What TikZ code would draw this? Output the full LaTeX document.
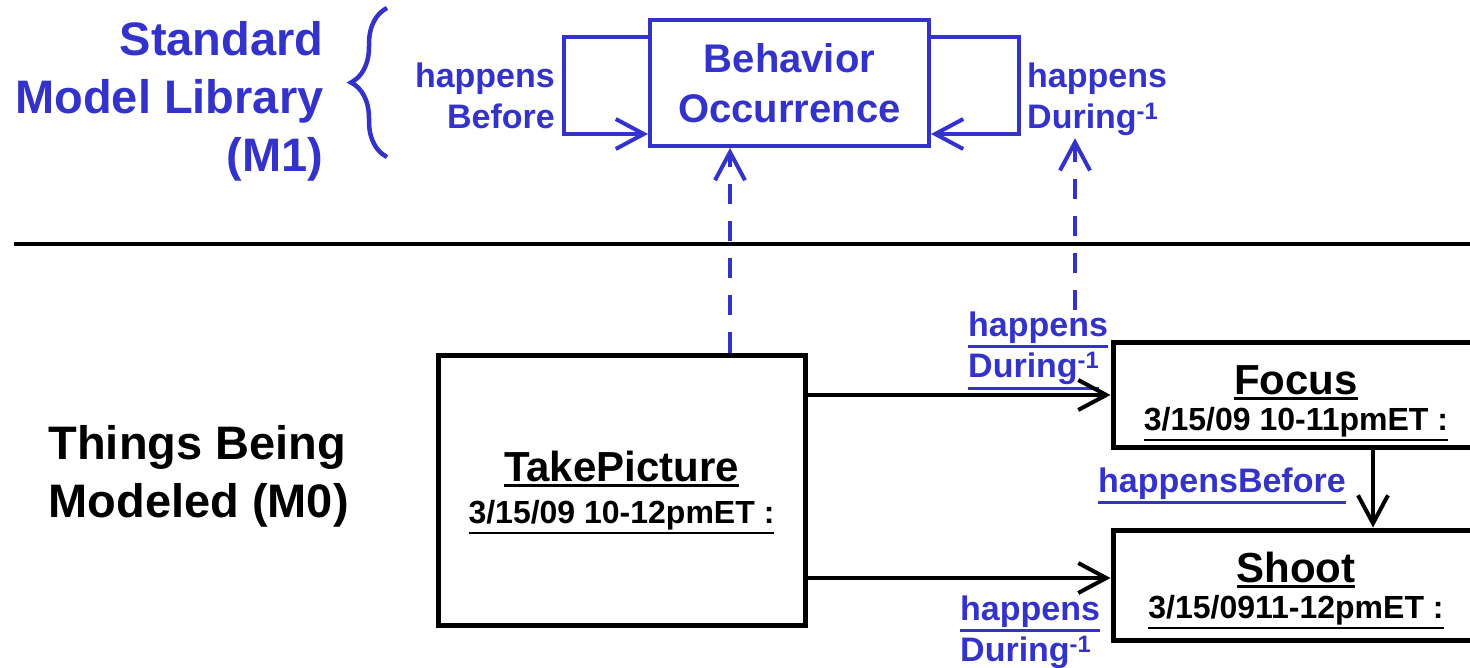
\documentclass[tikz,border=0pt]{standalone}
\usepackage{fontspec}
\setmainfont{Liberation Sans}
\usepackage{tikz}
\usetikzlibrary{arrows.meta,
decorations.pathreplacing,
calc
}
\definecolor{mlblue}{RGB}{51,51,204}
\tikzset{>={Straight Barb[length=28pt,width=30pt]}}
\tikzset{
  libbox/.style={draw=mlblue, text=mlblue, line width=4pt, align=center,
    minimum width=279pt, minimum height=126pt,
    font=\fontsize{40}{50}\selectfont\bfseries},
  thingbox/.style={draw, line width=5pt, align=center, inner sep=0pt,
    font=\fontsize{42}{46}\selectfont\bfseries},
  level/.style={align=right, font=\fontsize{47}{58}\selectfont\bfseries},
  rel/.style={text=mlblue, inner sep=2pt, font=\fontsize{34}{41}\selectfont\bfseries},
  wire/.style={line width=4pt},
  instof/.style={mlblue, line width=4pt, dash pattern=on 20pt off 17pt},
}
% underline with a heavier rule
\newcommand{\ulink}[2][3pt]{\vtop{\hbox{#2}\kern1.5pt\hrule height #1}}
\newcommand{\datetext}[1]{{\fontsize{32}{36}\selectfont\ulink[2.2pt]{#1}}}

\begin{document}
\begin{tikzpicture}[x=1pt, y=-1pt]
  \useasboundingbox (0,0) rectangle (1470,668);
  \clip (0,0) rectangle (1470,668);

  % M1 level
  \node[level, text=mlblue, anchor=north east] (m1) at (327,18) {Standard\\Model Library\\(M1)};
  \draw[mlblue, line width=4.5pt, decorate, decoration={brace, amplitude=36pt}] (387,157) -- (387,8);
  \node[libbox] (bo) at (789.5,83) {Behavior\\Occurrence};
  \node[rel, align=right, anchor=north east] (hb) at (557,61) {happens\\Before};
  \node[rel, align=left, anchor=north west] (hd) at (1025,61) {happens\\During\textsuperscript{-1}};
  \draw[mlblue, wire, ->] ([yshift=-19pt]bo.north west) -- ++(-84,0) |- ([yshift=14pt]bo.south west);
  \draw[mlblue, wire, ->] ([yshift=-19pt]bo.north east) -- ++(88,0) |- ([yshift=14pt]bo.south east);

  \draw[line width=4pt] (14,244) -- (1470,244);

  % M0 level
  \node[level, align=left, anchor=north west] (m0) at (45,422) {Things Being\\Modeled (M0)};
  \node[thingbox, minimum width=367pt, minimum height=270pt] (tp) at (621.5,490)
    {\rule{0pt}{36pt}\ulink{TakePicture}\\[-4pt]\datetext{3/15/09 10-12pmET :}};
  \node[thingbox, minimum width=366pt, minimum height=104pt] (fc) at (1296,395)
    {\rule{0pt}{46pt}\ulink{Focus}\\[-10pt]\datetext{3/15/09 10-11pmET :}};
  \node[thingbox, minimum width=366pt, minimum height=110pt] (sh) at (1296,585)
    {\rule{0pt}{42pt}\ulink{Shoot}\\[-10pt]\datetext{3/15/0911-12pmET :}};

  \node[rel, align=left, anchor=north west] (tpfc) at (966,310)
    {\ulink{happens}\\\ulink{During\textsuperscript{-1}}};
  \node[rel, align=left, anchor=north west] (tpsh) at (958,594)
    {\ulink{happens}\\\ulink{During\textsuperscript{-1}}};
  \node[rel, anchor=north west] (fcsh) at (1096,466) {\ulink{happensBefore}};

  \draw[wire, ->] (tp.east |- fc.west) -- (fc.west);
  \draw[wire, ->] (tp.east |- sh.west) ++(0,-7) -- ([yshift=7pt]sh.west);
  \draw[wire, ->] ([xshift=77pt]fc.south) -- ([xshift=77pt]sh.north);

  % instance-of links
  \coordinate (up1) at (730,0);
  \coordinate (up2) at (1075,0);
  \draw[instof, ->] (tp.north -| up1) -- (bo.south -| up1);
  \draw[instof, ->] (tpfc.north -| up2) -- (hd.south -| up2);
\end{tikzpicture}
\end{document}
